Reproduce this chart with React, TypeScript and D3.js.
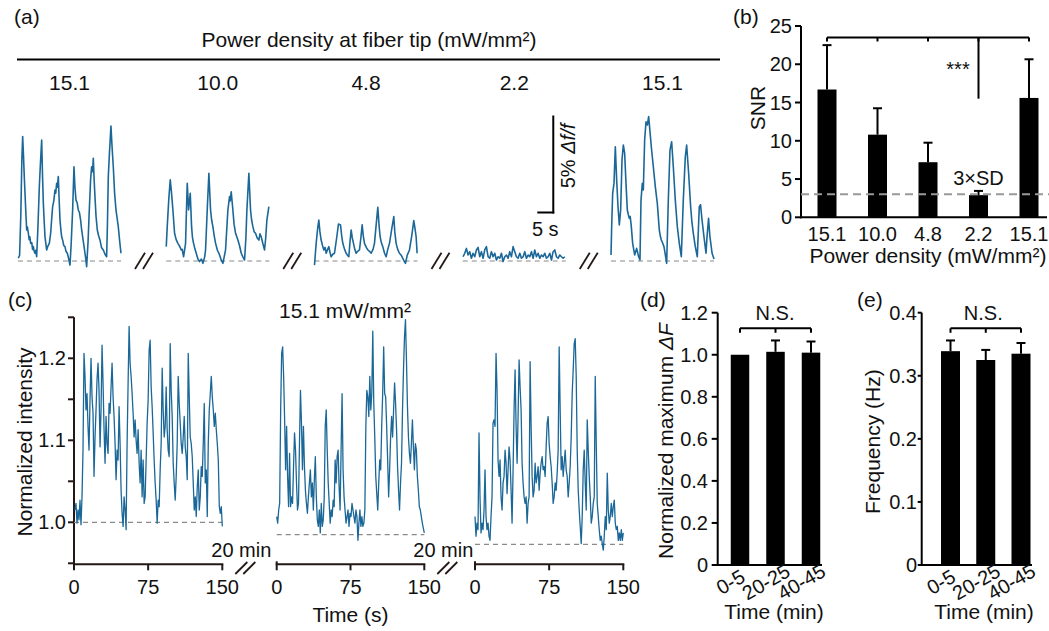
import React from "react";
import * as d3 from "d3";

const FONT = "'Liberation Sans', Arial, Helvetica, sans-serif";
const BLUE = "#1b6898";
const DARK = "#231815";

// ---------- (a) fiber-tip power density traces: [time s, Δf/f %] ----------
const A_LABELS = ["15.1", "10.0", "4.8", "2.2", "15.1"];
const A_TRACE_1: [number, number][] = [
  [0.1, 0.14], [0.5, 0.3], [0.9, 2.5], [1.2, 5.2], [1.46, 6.41], [1.7, 5.5], [1.95, 4.4], [2.19, 3.49], [2.45, 2.5], [2.71, 1.6],
  [2.95, 1.75], [3.23, 1.43], [3.5, 1.1], [3.7, 1.25], [3.96, 0.91], [4.3, 0.95], [4.55, 0.6], [4.79, 0.74], [5.05, 0.5], [5.31, 0.4],
  [5.55, 0.55], [5.83, 0.22], [6.2, 1.6], [6.67, 3.83], [7.0, 5.0], [7.4, 6.24], [7.65, 4.5], [7.92, 2.97], [8.2, 2.0], [8.44, 1.25],
  [8.7, 0.9], [8.96, 0.57], [9.3, 0.75], [9.79, 0.91], [10.21, 1.43], [10.5, 2.1], [10.83, 2.8], [11.2, 3.1], [11.56, 3.66], [11.8, 3.5],
  [12.08, 4.0], [12.3, 3.8], [12.6, 4.35], [12.85, 3.2], [13.13, 2.11], [13.4, 1.6], [13.65, 1.25], [14.0, 1.05], [14.3, 0.8], [14.69, 0.74],
  [15.0, 0.5], [15.42, 0.4], [15.8, 0.15], [16.25, -0.21], [16.6, 0.8], [17.08, 2.63], [17.5, 4.86], [17.8, 3.8], [18.13, 3.14], [18.5, 3.0],
  [18.85, 2.63], [19.2, 2.5], [19.58, 2.11], [19.9, 1.6], [20.21, 1.25], [20.6, 0.8], [20.94, 0.4], [21.2, 0.1], [21.46, -0.29], [21.9, 1.0],
  [22.29, 2.63], [22.7, 4.2], [23.02, 4.86], [23.3, 4.6], [23.54, 5.29], [23.8, 4.2], [24.06, 3.32], [24.4, 2.3], [24.79, 1.6], [25.2, 1.3],
  [25.63, 1.08], [26.1, 0.7], [26.67, 0.57], [27.2, 0.35], [27.71, 0.22], [27.95, 1.8], [28.23, 4.35], [28.6, 5.6], [29.06, 6.96], [29.4, 5.9],
  [29.79, 4.86], [30.2, 3.5], [30.63, 2.63], [31.0, 2.2], [31.35, 1.77], [31.8, 1.0], [32.19, 0.4],
];
const A_TRACE_2: [number, number][] = [
  [0, 0.74], [0.31, 1.77], [0.8, 3.2], [1.25, 4.18], [1.6, 3.6], [2.08, 2.63], [2.6, 1.43], [3.1, 1.1], [3.65, 0.91], [4.2, 0.75],
  [4.69, 0.57], [5.0, 0.6], [5.42, 0.22], [6.04, 0.91], [6.3, 2.5], [6.56, 4.0], [6.98, 2.63], [7.5, 3.49], [7.92, 1.77], [8.2, 1.2],
  [8.54, 0.91], [9.0, 0.6], [9.38, 0.4], [9.9, 0.1], [10.42, -0.03], [11.0, 0.1], [11.46, -0.12], [12.0, 0.2], [12.29, 0.57], [12.81, 2.63],
  [13.33, 4.52], [13.85, 2.63], [14.2, 2.1], [14.58, 1.77], [15.0, 1.3], [15.42, 0.91], [16.0, 0.55], [16.46, 0.4], [17.1, 0.1], [17.71, -0.12],
  [18.1, 0.2], [18.54, 0.57], [19.27, 2.63], [19.79, 3.32], [20.0, 3.1], [20.31, 3.57], [20.83, 2.63], [21.2, 1.9], [21.67, 1.43], [22.4, 1.08],
  [22.9, 0.8], [23.44, 0.4], [24.0, 0.2], [24.48, 0.05], [24.9, 1.2], [25.21, 2.63], [25.83, 4.52], [26.35, 2.63], [26.7, 2.1], [27.08, 1.77],
  [27.5, 1.5], [27.92, 1.43], [28.4, 1.2], [28.96, 1.08], [29.3, 1.4], [29.69, 1.25], [30.2, 0.9], [30.73, 0.57], [31.1, 1.2], [31.46, 2.11],
  [32.08, 2.8],
];
const A_TRACE_3: [number, number][] = [
  [0, -0.21], [0.52, 0.91], [1.0, 1.7], [1.35, 2.11], [1.7, 1.5], [2.08, 1.08], [2.5, 0.8], [2.92, 0.57], [3.3, 0.7], [3.65, 0.4],
  [4.1, 0.6], [4.48, 0.74], [4.9, 0.4], [5.21, 0.22], [5.7, 0.35], [6.25, 0.4], [6.98, 1.25], [7.5, 1.91], [8.13, 1.86], [8.5, 1.3],
  [8.85, 0.91], [9.4, 0.6], [9.9, 0.4], [10.3, 0.3], [10.73, 0.22], [11.1, 1.0], [11.46, 1.6], [11.8, 1.2], [12.19, 0.91], [12.6, 0.6],
  [13.02, 0.4], [13.5, 0.5], [14.06, 0.57], [14.5, 1.2], [14.9, 1.86], [15.25, 1.3], [15.63, 0.91], [16.2, 0.7], [16.67, 0.57], [17.2, 0.5],
  [17.71, 0.4], [18.3, 0.6], [18.75, 0.91], [19.3, 1.9], [19.79, 2.77], [20.2, 1.8], [20.52, 1.25], [20.9, 0.95], [21.35, 0.74], [21.9, 0.4],
  [22.4, 0.22], [22.9, 0.6], [23.44, 0.91], [24.1, 1.6], [24.79, 2.29], [25.1, 1.5], [25.52, 0.91], [26.0, 0.6], [26.56, 0.4], [27.1, 0.3],
  [27.6, 0.14], [28.0, 0.0], [28.44, -0.12], [29.0, 0.3], [29.69, 0.57], [30.4, 1.3], [31.04, 2.08], [31.4, 1.7], [31.77, 1.25], [32.08, 0.4],
];
// trace 4 is sampled evenly between these times
const A_TRACE_4_SPAN = [0.1, 31.9];
const A_TRACE_4_VALUES = [
  0.22, 0.40, 0.65, 0.31, 0.48, 0.14, 0.40, 0.22, 0.57, 0.70, 0.22, 0.48, 0.14, 0.57, 0.74, 0.22, 0.14, 0.48, 0.22, 0.40,
  0.05, 0.22, 0.14, 0.40, -0.03, 0.22, 0.31, 0.14, 0.48, 0.22, 0.74, 0.48, 0.22, 0.14, 0.40, 0.14, 0.22, 0.48, 0.14, 0.31,
  0.22, 0.48, 0.14, 0.57, 0.22, 0.40, 0.14, 0.31, 0.22, 0.40, 0.14, 0.22, 0.40, 0.05, 0.48, 0.57, 0.22, 0.14, 0.31, 0.22,
  0.14, 0.22,
];
const A_TRACE_5: [number, number][] = [
  [0, 0.31], [0.21, 1.77], [0.52, 3.49], [0.94, 4.0], [1.35, 5.89], [1.77, 4.18], [2.19, 2.8], [2.6, 1.86], [3.02, 2.63], [3.44, 5.21],
  [3.85, 5.98], [4.27, 5.55], [4.69, 4.0], [5.1, 2.63], [5.4, 2.4], [5.73, 2.2], [6.0, 2.3], [6.35, 1.77], [6.77, 0.91], [7.1, 0.6],
  [7.4, 0.31], [8.02, 0.65], [8.65, 0.22], [9.06, 0.05], [9.38, 3.14], [9.79, 4.0], [10.1, 3.66], [10.52, 6.24], [10.94, 7.18], [11.35, 7.01],
  [11.77, 7.44], [12.19, 6.67], [12.6, 5.89], [13.23, 4.86], [13.85, 3.83], [14.48, 2.97], [15.1, 1.6], [15.4, 1.3], [15.73, 1.08], [16.2, 0.9],
  [16.56, 0.74], [17.0, 0.3], [17.4, -0.12], [17.92, 3.14], [18.44, 5.72], [18.96, 6.15], [19.48, 4.86], [20.1, 3.14], [20.73, 1.77], [21.0, 1.4],
  [21.35, 0.91], [21.98, 0.22], [22.6, 3.14], [23.23, 5.38], [23.65, 5.98], [24.27, 4.52], [24.9, 2.8], [25.3, 2.0], [25.73, 1.43], [26.35, 0.74],
  [26.98, 0.22], [27.6, 2.8], [28.0, 2.9], [28.4, 2.2], [29.1, 1.2], [29.7, 0.4], [30.0, 1.2], [30.5, 2.2], [30.9, 1.3], [31.6, 0.4],
  [32.2, 0.1],
];
const A_DURATION = 32.2;
const A_SCALE_SECONDS = 5;
const A_SCALE_PERCENT = 5;

// ---------- (b) SNR ----------
const B_CATEGORIES = ["15.1", "10.0", "4.8", "2.2", "15.1"];
const B_SNR = [16.7, 10.8, 7.2, 2.9, 15.6];
const B_SD = [5.8, 3.45, 2.55, 0.55, 5.05];
const B_THRESHOLD = 3;
const B_Y_TICKS = [0, 5, 10, 15, 20, 25];

// ---------- (c) long recordings, normalized intensity (sampled evenly over spans) ----------
const C_SPANS = [[1, 150], [0, 150], [0, 150]];
const C_TRACE_1 = [
  1.015, 1.023, 0.999, 1.015, 1.003, 1.027, 0.997, 1.031, 1.088, 1.206,
  1.178, 1.137, 1.157, 1.117, 1.088, 1.149, 1.200, 1.153, 1.133, 1.056,
  1.104, 1.137, 1.174, 1.194, 1.161, 1.092, 1.137, 1.216, 1.170, 1.113,
  1.072, 1.129, 1.096, 1.084, 1.145, 1.133, 1.165, 1.194, 1.153, 1.129,
  1.096, 1.052, 1.088, 1.076, 1.141, 1.096, 1.039, 1.011, 0.995, 1.031,
  1.015, 0.991, 1.096, 1.170, 1.239, 1.194, 1.178, 1.157, 1.133, 1.104,
  1.125, 1.100, 1.084, 1.113, 1.072, 1.048, 1.088, 1.031, 1.076, 1.023,
  1.031, 1.076, 1.121, 1.149, 1.210, 1.222, 1.165, 1.141, 1.109, 1.076,
  1.048, 1.027, 0.999, 1.027, 1.019, 1.064, 1.096, 1.188, 1.137, 1.104,
  1.117, 1.165, 1.113, 1.088, 1.080, 1.218, 1.161, 1.129, 1.072, 1.048,
  1.027, 1.056, 1.096, 1.178, 1.145, 1.121, 1.096, 1.084, 1.104, 1.129,
  1.092, 1.080, 1.052, 1.206, 1.153, 1.104, 1.096, 1.080, 1.048, 1.015,
  1.031, 1.007, 1.043, 1.064, 1.015, 1.031, 1.068, 1.056, 1.096, 1.145,
  1.048, 1.064, 1.007, 1.096, 1.137, 1.157, 1.178, 1.153, 1.137, 1.117,
  1.133, 1.113, 1.096, 1.076, 1.019, 1.011, 1.019, 0.995,
];
const C_TRACE_2 = [
  1.007, 0.999, 1.015, 1.023, 1.137, 1.206, 1.214, 1.178, 1.125, 1.064,
  1.117, 1.056, 1.019, 1.084, 1.019, 1.031, 1.023, 1.068, 1.109, 1.088,
  1.048, 1.015, 1.023, 1.096, 1.161, 1.121, 1.064, 1.117, 1.068, 1.039,
  1.023, 1.011, 1.031, 1.048, 1.064, 1.031, 1.048, 1.015, 1.052, 1.080,
  1.031, 1.003, 0.995, 1.015, 0.987, 1.023, 0.995, 1.003, 1.031, 1.117,
  1.137, 1.088, 1.048, 1.023, 0.999, 1.015, 1.007, 1.027, 1.019, 1.076,
  1.048, 1.080, 1.088, 1.043, 1.015, 1.088, 1.157, 1.064, 1.031, 1.015,
  0.999, 1.007, 1.015, 0.995, 1.011, 1.007, 1.023, 1.015, 1.007, 0.999,
  1.015, 1.007, 0.978, 0.999, 1.015, 0.995, 1.007, 0.995, 0.999, 1.015,
  1.117, 1.161, 1.153, 1.129, 1.178, 1.137, 1.157, 1.233, 1.145, 1.104,
  1.056, 1.035, 1.015, 1.048, 1.076, 1.064, 1.117, 1.157, 1.214, 1.157,
  1.153, 1.117, 1.076, 1.031, 1.064, 1.104, 1.129, 1.104, 1.137, 1.170,
  1.145, 1.113, 1.068, 1.039, 1.015, 1.048, 1.072, 1.137, 1.186, 1.226,
  1.247, 1.198, 1.141, 1.104, 1.084, 1.072, 1.096, 1.125, 1.092, 1.064,
  1.096, 1.088, 1.056, 1.039, 1.019, 1.015, 1.007, 0.999, 0.993, 0.987,
];
const C_TRACE_3 = [
  1.007, 0.983, 0.999, 0.991, 1.109, 1.031, 0.987, 0.999, 0.991, 1.015,
  1.064, 1.007, 0.991, 0.999, 0.983, 0.978, 1.007, 1.031, 1.121, 1.125,
  1.117, 1.206, 1.161, 1.076, 1.056, 1.076, 1.031, 1.015, 1.048, 1.056,
  1.088, 1.072, 1.035, 1.064, 1.092, 1.076, 1.039, 0.999, 1.064, 1.137,
  1.186, 1.117, 1.072, 1.129, 1.198, 1.165, 1.137, 1.072, 1.048, 1.031,
  1.023, 1.031, 0.999, 1.023, 1.031, 1.196, 1.117, 1.056, 1.031, 1.039,
  1.072, 1.048, 1.056, 1.068, 1.039, 1.060, 1.072, 1.080, 1.064, 1.068,
  1.056, 1.092, 1.121, 1.129, 1.096, 1.080, 1.068, 1.048, 1.023, 1.031,
  1.048, 1.039, 1.060, 1.088, 1.214, 1.137, 1.064, 1.080, 1.056, 1.072,
  1.088, 1.064, 1.056, 1.031, 1.048, 1.068, 1.104, 1.157, 1.186, 1.218,
  1.224, 1.178, 1.088, 1.039, 1.015, 0.995, 0.974, 1.007, 1.064, 1.088,
  1.048, 1.015, 1.125, 1.088, 1.056, 1.031, 0.999, 1.007, 1.023, 1.031,
  1.178, 1.096, 1.023, 1.007, 0.991, 0.978, 0.983, 0.974, 0.966, 0.983,
  1.007, 0.991, 1.060, 1.015, 0.999, 1.007, 1.023, 1.007, 1.019, 1.027,
  0.999, 0.991, 0.995, 0.978, 0.987, 0.978, 0.991, 0.978, 0.987,
];
const C_BASELINES = [1.0, 0.985, 0.973];
const C_X_TICKS = [0, 75, 150];
const C_Y_LABELED = [1.0, 1.1, 1.2];
const C_Y_TICKS = [0.95, 1.0, 1.05, 1.1, 1.15, 1.2, 1.25];

// ---------- (d) and (e) ----------
const DE_CATEGORIES = ["0-5", "20-25", "40-45"];
const D_VALUES = [1.0, 1.014, 1.01];
const D_ERR = [0, 0.054, 0.053];
const D_Y_TICKS = [0, 0.2, 0.4, 0.6, 0.8, 1.0, 1.2];
const E_VALUES = [0.339, 0.325, 0.335];
const E_ERR = [0.017, 0.016, 0.017];
const E_Y_TICKS = [0, 0.1, 0.2, 0.3, 0.4];

type Pt = [number, number];

function sampled(values: number[], span: number[]): Pt[] {
  const step = (span[1] - span[0]) / (values.length - 1);
  return values.map((v, i) => [span[0] + i * step, v] as Pt);
}

function BarPanel(props: {
  values: number[]; errs: number[]; ticks: number[]; yDomain: [number, number];
  axisX: number; axisRight: number; xRange: [number, number]; barW: number;
  labelEnd: number; tickLen: number; nsX: number; nsBracketY: number;
}) {
  const { values, errs, ticks, yDomain, axisX, axisRight, xRange, barW, labelEnd, tickLen, nsBracketY } = props;
  const y = d3.scaleLinear().domain(yDomain).range([565, 312.7]);
  const x = d3.scalePoint<number>().domain(values.map((_, i) => i)).range(xRange);
  const fmt = (v: number) => (v === 0 ? "0" : d3.format(".1f")(v));
  return (
    <g>
      <line x1={axisX} x2={axisX} y1={y(yDomain[1])} y2={y(0) + 1} stroke="#000" strokeWidth={2} />
      <line x1={axisX - 1} x2={axisRight} y1={y(0)} y2={y(0)} stroke="#000" strokeWidth={2} />
      {ticks.map((t) => (
        <g key={t}>
          <line x1={axisX - tickLen} x2={axisX} y1={y(t)} y2={y(t)} stroke="#000" strokeWidth={2} />
          <text x={labelEnd} y={y(t) + 7} fontSize={20} textAnchor="end">{fmt(t)}</text>
        </g>
      ))}
      {values.map((v, i) => (
        <g key={i}>
          <rect x={(x(i) as number) - barW / 2} y={y(v)} width={barW} height={y(0) - y(v)} fill="#000" />
          {errs[i] > 0 && (
            <g stroke="#000" strokeWidth={2}>
              <line x1={x(i)} x2={x(i)} y1={y(v)} y2={y(v + errs[i])} />
              <line x1={(x(i) as number) - 4.5} x2={(x(i) as number) + 4.5} y1={y(v + errs[i])} y2={y(v + errs[i])} />
            </g>
          )}
          <text transform={`translate(${(x(i) as number) - 6},${588}) rotate(-30)`} fontSize={20} textAnchor="middle">
            {DE_CATEGORIES[i]}
          </text>
        </g>
      ))}
      <g stroke="#000" strokeWidth={2} fill="none">
        <line x1={x(0)} x2={x(values.length - 1)} y1={nsBracketY} y2={nsBracketY} />
        {values.map((_, i) => (
          <line key={i} x1={x(i)} x2={x(i)} y1={nsBracketY} y2={nsBracketY + 4.5} />
        ))}
      </g>
      <text x={props.nsX} y={nsBracketY - 8} fontSize={20} textAnchor="middle">N.S.</text>
    </g>
  );
}

export default function App() {
  // ----- (a)
  const aY = d3.scaleLinear().domain([0, 5]).range([261, 164]);
  const aTraces: Pt[][] = [A_TRACE_1, A_TRACE_2, A_TRACE_3, sampled(A_TRACE_4_VALUES, A_TRACE_4_SPAN), A_TRACE_5];
  const aX = aTraces.map((_, i) =>
    d3.scaleLinear().domain([0, A_DURATION]).range([18 + i * 148.25, 121 + i * 148.25])
  );
  const sx = aX[3];
  const barRight = sx(28.3);
  const barLeft = sx(28.3 - A_SCALE_SECONDS);
  const barBottom = aY(2.5);
  const barTop = aY(2.5 + A_SCALE_PERCENT);

  // ----- (b)
  const bY = d3.scaleLinear().domain([0, 25]).range([217.3, 26]);
  const bX = d3.scalePoint<number>().domain(B_SNR.map((_, i) => i)).range([827, 1029]);
  const bAxisX = 801;
  const bracketY = bY(23.5);

  // ----- (c)
  const cY = d3.scaleLinear().domain([0.95, 1.25]).range([563.3, 317.3]);
  const cRanges: [number, number][] = [[74, 222.3], [276.7, 424.3], [475, 623.3]];
  const cX = cRanges.map((r) => d3.scaleLinear().domain([0, 150]).range(r));
  const cTraces = [C_TRACE_1, C_TRACE_2, C_TRACE_3].map((v, i) => sampled(v, C_SPANS[i]));
  const cAxisY = 564.3;

  const slashes = (cx: number, yTop: number, yBot: number, key: string, w = 10) => (
    <g key={key} stroke={DARK} strokeWidth={1.8}>
      <line x1={cx - 9} y1={yBot} x2={cx - 9 + w} y2={yTop} />
      <line x1={cx - 1} y1={yBot} x2={cx - 1 + w} y2={yTop} />
    </g>
  );

  return (
    <svg
      width={1049}
      height={631}
      viewBox="0 0 1049 631"
      style={{ position: "absolute", left: 0, top: 0, background: "#fff" }}
      fontFamily={FONT}
      fill="#111"
    >
      {/* ================= (a) ================= */}
      <text x={14} y={24} fontSize={21}>(a)</text>
      <text x={369} y={47} fontSize={21} textAnchor="middle">Power density at fiber tip (mW/mm²)</text>
      <line x1={17} x2={720} y1={59.5} y2={59.5} stroke="#000" strokeWidth={2} />
      {aTraces.map((tr, i) => {
        const x = aX[i];
        const line = d3.line<Pt>().x((d) => x(d[0])).y((d) => aY(d[1]));
        return (
          <g key={i}>
            <text x={(x(0) + x(A_DURATION)) / 2} y={90} fontSize={21} textAnchor="middle">{A_LABELS[i]}</text>
            <line x1={x(0)} x2={x(A_DURATION)} y1={aY(0)} y2={aY(0)} stroke="#8a8a8a" strokeWidth={1.2} strokeDasharray="5 4" />
            <path d={line(tr) || ""} fill="none" stroke={BLUE} strokeWidth={1.6} strokeLinejoin="round" />
            {i < 4 && slashes(x(A_DURATION) + 23, 252.7, 269, `s${i}`)}
          </g>
        );
      })}
      <g stroke="#000" strokeWidth={2} fill="none">
        <line x1={barRight} x2={barRight} y1={barTop} y2={barBottom + 1} />
        <line x1={barLeft} x2={barRight + 1} y1={barBottom} y2={barBottom} />
      </g>
      <text x={(barLeft + barRight) / 2} y={236} fontSize={20} textAnchor="middle">5 s</text>
      <text transform={`translate(575,${(barTop + barBottom) / 2 - 8}) rotate(-90)`} fontSize={20} textAnchor="middle">
        5% <tspan fontStyle="italic">Δf/f</tspan>
      </text>

      {/* ================= (b) ================= */}
      <text x={733} y={24} fontSize={21}>(b)</text>
      <line x1={bAxisX} x2={bAxisX} y1={bY(25)} y2={bY(0) + 1} stroke="#000" strokeWidth={2} />
      <line x1={bAxisX - 1} x2={1047} y1={bY(0)} y2={bY(0)} stroke="#000" strokeWidth={2} />
      {B_Y_TICKS.map((t) => (
        <g key={t}>
          <line x1={bAxisX - 6} x2={bAxisX} y1={bY(t)} y2={bY(t)} stroke="#000" strokeWidth={2} />
          <text x={792} y={bY(t) + 7} fontSize={20} textAnchor="end">{t}</text>
        </g>
      ))}
      {B_SNR.map((v, i) => {
        const cx = bX(i) as number;
        return (
          <g key={i}>
            <rect x={cx - 9.5} y={bY(v)} width={19} height={bY(0) - bY(v)} fill="#000" />
            <g stroke="#000" strokeWidth={2}>
              <line x1={cx} x2={cx} y1={bY(v)} y2={bY(v + B_SD[i])} />
              <line x1={cx - 4.5} x2={cx + 4.5} y1={bY(v + B_SD[i])} y2={bY(v + B_SD[i])} />
            </g>
            <text x={cx} y={241} fontSize={20} textAnchor="middle">{B_CATEGORIES[i]}</text>
          </g>
        );
      })}
      <line x1={bAxisX} x2={1049} y1={bY(B_THRESHOLD)} y2={bY(B_THRESHOLD)} stroke="#999" strokeWidth={2} strokeDasharray="8 5" />
      <text x={bX(3) as number} y={185} fontSize={20} textAnchor="middle">3×SD</text>
      <g stroke="#000" strokeWidth={2} fill="none">
        <line x1={bX(0)} x2={bX(4)} y1={bracketY} y2={bracketY} />
        {B_SNR.map((_, i) => (
          <line key={i} x1={bX(i)} x2={bX(i)} y1={bracketY} y2={bracketY + 4} />
        ))}
        <line x1={bX(3)} x2={bX(3)} y1={bracketY} y2={bY(15.5)} />
      </g>
      <text x={958} y={76} fontSize={20} textAnchor="middle">***</text>
      <text x={928} y={263} fontSize={21} textAnchor="middle">Power density (mW/mm²)</text>
      <text transform="translate(765,108) rotate(-90)" fontSize={21} textAnchor="middle">SNR</text>

      {/* ================= (c) ================= */}
      <text x={8} y={307} fontSize={21}>(c)</text>
      <text x={345} y={317.5} fontSize={21} textAnchor="middle">15.1 mW/mm²</text>
      <line x1={74} x2={74} y1={cY(1.25)} y2={cAxisY} stroke={DARK} strokeWidth={2} />
      {C_Y_TICKS.map((t) => (
        <line key={t} x1={68} x2={74} y1={cY(t)} y2={cY(t)} stroke={DARK} strokeWidth={2} />
      ))}
      {C_Y_LABELED.map((t) => (
        <text key={t} x={66} y={cY(t) + 7} fontSize={20} textAnchor="end">{d3.format(".1f")(t)}</text>
      ))}
      <text transform="translate(32,442) rotate(-90)" fontSize={21} textAnchor="middle">Normalized intensity</text>
      {cTraces.map((tr, i) => {
        const x = cX[i];
        const line = d3.line<Pt>().x((d) => x(d[0])).y((d) => cY(d[1]));
        const [r0, r1] = cRanges[i];
        return (
          <g key={i}>
            <line x1={r0} x2={r1} y1={cY(C_BASELINES[i])} y2={cY(C_BASELINES[i])} stroke="#8a8a8a" strokeWidth={1.2} strokeDasharray="5 4" />
            <path d={line(tr) || ""} fill="none" stroke={BLUE} strokeWidth={1.3} strokeLinejoin="round" />
            <line x1={r0 - 1} x2={r1 + 1} y1={cAxisY} y2={cAxisY} stroke={DARK} strokeWidth={2} />
            {C_X_TICKS.map((t) => (
              <g key={t}>
                <line x1={x(t)} x2={x(t)} y1={cAxisY - (i > 0 && t === 0 ? 3 : 0)} y2={cAxisY + 6} stroke={DARK} strokeWidth={2} />
                <text x={x(t)} y={594} fontSize={20} textAnchor="middle">{t}</text>
              </g>
            ))}
            {i < 2 && (
              <g>
                <text x={r1 + 19} y={557} fontSize={20} textAnchor="middle">20 min</text>
                {slashes(r1 + 22, 562, 574, `cs${i}`, 12)}
              </g>
            )}
          </g>
        );
      })}
      <text x={350.5} y={622} fontSize={21} textAnchor="middle">Time (s)</text>

      {/* ================= (d) ================= */}
      <text x={640} y={307} fontSize={21}>(d)</text>
      <BarPanel
        values={D_VALUES} errs={D_ERR} ticks={D_Y_TICKS} yDomain={[0, 1.2]}
        axisX={717.7} axisRight={822} xRange={[740, 811]} barW={18.5}
        labelEnd={708} tickLen={6} nsX={775} nsBracketY={328.3}
      />
      <text transform="translate(673,441) rotate(-90)" fontSize={21} textAnchor="middle">
        Normalized maximum <tspan fontStyle="italic">ΔF</tspan>
      </text>
      <text x={774} y={619} fontSize={21} textAnchor="middle">Time (min)</text>

      {/* ================= (e) ================= */}
      <text x={857} y={307} fontSize={21}>(e)</text>
      <BarPanel
        values={E_VALUES} errs={E_ERR} ticks={E_Y_TICKS} yDomain={[0, 0.4]}
        axisX={921.7} axisRight={1032} xRange={[950.5, 1021]} barW={19}
        labelEnd={917} tickLen={4} nsX={983.3} nsBracketY={328.3}
      />
      <text transform="translate(880,441.7) rotate(-90)" fontSize={21} textAnchor="middle">Frequency (Hz)</text>
      <text x={984} y={619} fontSize={21} textAnchor="middle">Time (min)</text>
    </svg>
  );
}
